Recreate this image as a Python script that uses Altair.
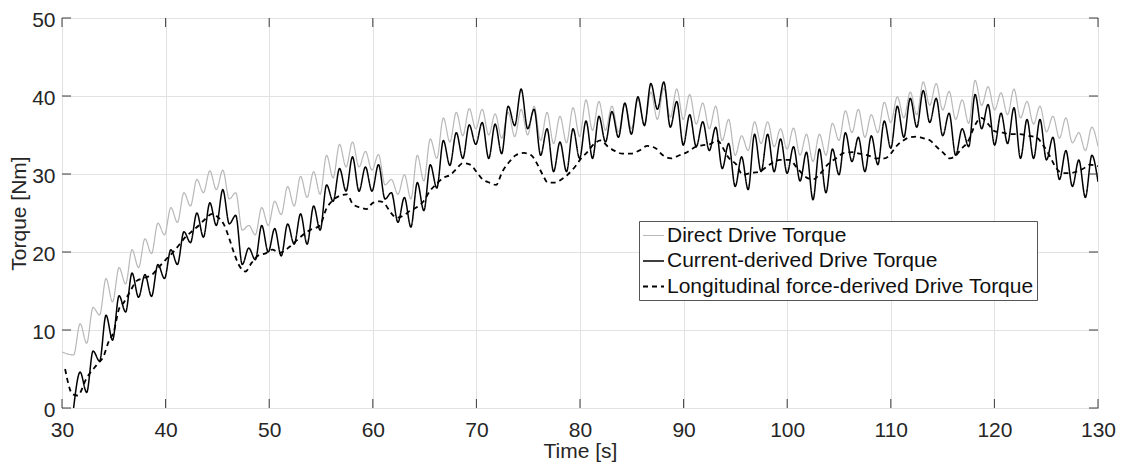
import altair as alt
import pandas as pd

# ---- time grid of the oscillation peaks and troughs ----
peak_t = [31.75, 33.00, 34.25, 35.51, 36.76, 38.01, 39.26, 40.51, 41.77, 43.02,
          44.27, 45.52, 46.77, 48.03, 49.28, 50.53, 51.78, 53.03, 54.29, 55.54,
          56.79, 58.04, 59.29, 60.55, 61.80, 63.05, 64.30, 65.55, 66.81, 68.06,
          69.31, 70.56, 71.81, 73.07, 74.32, 75.57, 76.82, 78.07, 79.33, 80.58,
          81.83, 83.08, 84.33, 85.59, 86.84, 88.09, 89.34, 90.59, 91.85, 93.10,
          94.35, 95.60, 96.85, 98.11, 99.36, 100.61, 101.86, 103.11, 104.37, 105.62,
          106.87, 108.12, 109.37, 110.63, 111.88, 113.13, 114.38, 115.63, 116.89, 118.14,
          119.39, 120.64, 121.89, 123.15, 124.40, 125.65, 126.90, 128.15, 129.41]
trough_t = [32.38, 33.63, 34.88, 36.14, 37.39, 38.64, 39.89, 41.14, 42.40, 43.65,
            44.90, 46.15, 47.40, 48.66, 49.91, 51.16, 52.41, 53.66, 54.92, 56.17,
            57.42, 58.67, 59.92, 61.18, 62.43, 63.68, 64.93, 66.18, 67.44, 68.69,
            69.94, 71.19, 72.44, 73.70, 74.95, 76.20, 77.45, 78.70, 79.96, 81.21,
            82.46, 83.71, 84.96, 86.22, 87.47, 88.72, 89.97, 91.22, 92.48, 93.73,
            94.98, 96.23, 97.48, 98.74, 99.99, 101.24, 102.49, 103.74, 105.00, 106.25,
            107.50, 108.75, 110.00, 111.26, 112.51, 113.76, 115.01, 116.26, 117.52, 118.77,
            120.02, 121.27, 122.52, 123.78, 125.03, 126.28, 127.53, 128.78, 130.00]

# ---- Direct Drive Torque (grey) ----
direct_start_t = [30.0, 31.12]
direct_start_v = [7.2, 6.8]
direct_peak = [10.8, 12.9, 16.6, 18.0, 20.3, 21.7, 23.7, 25.7, 27.6, 29.3, 30.4, 30.5, 27.6, 23.4, 25.7,
               26.5, 28.4, 29.7, 30.3, 32.4, 33.8, 34.1, 32.9, 32.5, 29.3, 29.9, 32.4, 34.5, 37.2, 37.9, 38.4,
               38.3, 37.7, 37.9, 38.3, 38.7, 37.9, 37.4, 38.5, 39.5, 39.3, 38.7, 39.0, 39.5, 40.5, 41.0, 40.9,
               40.2, 39.1, 38.7, 37.0, 34.9, 36.7, 36.7, 35.8, 35.9, 35.1, 35.1, 36.5, 38.1, 38.3, 37.6, 39.2,
               39.9, 40.5, 41.8, 41.6, 40.6, 39.5, 42.0, 41.2, 40.4, 40.9, 39.3, 38.7, 37.4, 37.2, 35.3, 36.0]
direct_trough = [8.3, 11.9, 13.6, 15.9, 18.0, 19.8, 22.2, 23.8, 25.9, 27.6, 28.0, 26.8, 22.8, 22.2, 23.4,
                 24.8, 25.9, 27.0, 27.4, 29.5, 30.9, 30.9, 30.5, 28.6, 27.4, 26.8, 29.1, 32.0, 34.1, 34.9, 35.8,
                 35.0, 34.6, 34.8, 35.0, 34.3, 33.9, 34.0, 34.8, 35.6, 35.6, 35.4, 35.8, 36.4, 37.0, 37.3, 37.0,
                 36.4, 35.8, 34.3, 32.4, 33.0, 33.9, 33.5, 33.2, 32.4, 31.6, 32.4, 34.3, 35.3, 34.7, 35.3, 36.6,
                 37.2, 37.6, 38.8, 38.2, 37.0, 36.5, 38.8, 38.2, 37.6, 37.2, 36.4, 35.4, 34.6, 34.0, 33.0, 33.5]

# ---- Current-derived Drive Torque (black) ----
current_start_t = [31.12]
current_start_v = [0.0]
current_peak = [4.6, 7.3, 11.9, 14.4, 17.3, 17.1, 18.4, 20.3, 22.6, 25.0, 26.3, 28.0, 24.7, 20.5, 23.4,
                23.0, 23.6, 24.9, 25.9, 28.6, 30.7, 32.2, 30.9, 31.2, 27.6, 27.0, 28.9, 31.2, 34.3, 35.3, 36.3,
                36.6, 36.4, 38.7, 40.9, 38.3, 35.8, 34.1, 35.8, 36.8, 37.4, 38.0, 39.1, 39.9, 41.6, 41.8, 39.3,
                37.6, 36.7, 36.0, 33.9, 32.2, 35.1, 35.1, 34.5, 33.5, 32.8, 33.2, 33.2, 35.3, 34.7, 34.9, 36.8,
                38.7, 39.7, 40.7, 39.7, 37.8, 35.8, 40.2, 38.9, 37.8, 38.5, 37.0, 37.0, 34.7, 33.0, 31.8, 32.4]
current_trough = [2.0, 6.0, 8.7, 12.3, 14.2, 14.3, 16.6, 18.4, 21.2, 21.9, 23.4, 23.6, 18.4, 19.0, 20.0,
                  19.5, 21.0, 21.0, 22.8, 26.5, 27.8, 27.8, 27.8, 26.8, 23.8, 23.2, 25.3, 28.2, 31.1, 32.0, 33.8,
                  32.0, 32.6, 36.2, 35.8, 32.4, 30.3, 30.3, 32.0, 32.0, 34.1, 34.7, 35.1, 36.2, 38.3, 36.0, 33.7,
                  33.5, 33.0, 30.7, 28.4, 28.0, 30.3, 30.3, 30.1, 29.1, 26.7, 27.6, 29.9, 31.6, 30.3, 31.2, 33.3,
                  34.7, 36.0, 36.6, 34.9, 32.4, 33.5, 35.8, 33.7, 33.9, 32.0, 32.0, 31.8, 29.3, 28.4, 27.0, 29.0]

# ---- Longitudinal force-derived Drive Torque (dashed) ----
long_t = [30.3, 31.0, 31.5, 32.4, 33.4, 34.0, 34.5, 35.0, 35.5, 36.0,
          36.6, 37.2, 38.0, 38.7, 39.3, 40.0, 40.6, 41.3, 41.9, 42.5,
          43.2, 43.8, 44.5, 45.1, 45.6, 46.1, 46.6, 47.05, 47.7, 48.3,
          49.0, 49.6, 50.3, 51.0, 52.0, 53.0, 53.9, 54.9, 55.5, 56.2,
          56.8, 57.5, 58.1, 58.8, 59.4, 60.0, 60.7, 61.2, 61.7, 62.3,
          63.0, 63.6, 64.2, 64.9, 65.5, 66.2, 66.8, 67.5, 68.1, 68.7,
          69.4, 70.0, 70.6, 71.25, 71.9, 72.5, 73.2, 73.8, 74.6, 75.3,
          75.9, 76.4, 76.9, 77.5, 78.2, 78.8, 79.5, 80.1, 80.7, 81.4,
          82.0, 82.7, 83.3, 84.1, 84.9, 85.7, 86.5, 87.3, 88.0, 88.8,
          89.6, 90.2, 91.2, 91.9, 92.5, 93.2, 94.4, 95.1, 95.7, 96.4,
          97.3, 98.3, 99.3, 100.2, 101.0, 101.7, 102.5, 103.1, 103.9, 104.7,
          105.5, 106.4, 107.0, 107.8, 108.6, 109.4, 110.0, 110.5, 111.2, 111.8,
          112.5, 113.1, 113.8, 114.4, 115.0, 115.7, 116.2, 116.8, 117.5, 118.1,
          118.75, 119.4, 120.0, 120.8, 121.6, 122.45, 123.25, 124.05, 124.7, 125.3,
          126.0, 126.6, 127.3, 127.9, 128.6, 129.2, 130.0]
long_v = [5.0, 1.8, 1.6, 3.9, 5.6, 6.6, 8.5, 9.8, 12.7, 13.6,
          15.0, 16.3, 16.7, 17.1, 18.0, 19.0, 19.8, 20.9, 21.9, 22.6,
          23.4, 24.2, 24.9, 24.4, 23.6, 21.9, 19.9, 18.4, 17.5, 18.6,
          19.6, 19.8, 20.3, 19.9, 20.7, 21.9, 22.8, 23.4, 25.5, 26.7,
          27.2, 27.4, 26.1, 25.7, 25.5, 26.3, 26.5, 26.1, 25.1, 24.4,
          24.7, 25.3, 25.7, 26.5, 27.8, 28.8, 29.5, 29.9, 30.7, 31.4,
          31.2, 30.3, 29.3, 28.9, 28.6, 30.3, 31.6, 32.4, 32.7, 32.4,
          31.2, 29.9, 28.9, 28.9, 29.3, 29.9, 30.9, 32.0, 32.8, 33.9,
          34.3, 33.5, 33.0, 32.6, 32.6, 33.0, 33.6, 33.3, 32.4, 32.0,
          32.4, 32.7, 33.5, 33.7, 33.8, 34.3, 32.0, 31.2, 29.9, 30.1,
          30.3, 31.2, 31.8, 31.8, 30.7, 29.7, 29.3, 29.9, 31.2, 32.0,
          32.7, 32.8, 32.6, 32.4, 32.0, 32.0, 32.6, 33.5, 34.3, 34.7,
          34.8, 34.6, 34.3, 33.5, 32.8, 32.0, 32.3, 33.2, 34.3, 36.2,
          37.2, 36.4, 35.5, 35.3, 35.1, 35.1, 34.9, 34.7, 33.7, 32.4,
          30.7, 30.1, 30.1, 30.3, 30.7, 31.2, 31.0]

x_ticks = [30, 40, 50, 60, 70, 80, 90, 100, 110, 120, 130]
y_ticks = [0, 10, 20, 30, 40, 50]
names = ["Direct Drive Torque", "Current-derived Drive Torque",
         "Longitudinal force-derived Drive Torque"]
colors = ["#b8b8b8", "#000000", "#000000"]
dashes = [[1, 0], [1, 0], [5, 4]]
widths = [1.2, 1.8, 2.0]


def interleave(start_t, start_v, peaks, troughs):
    t = list(start_t)
    v = list(start_v)
    for pt, pv, tt, tv in zip(peak_t, peaks, trough_t, troughs):
        t += [pt, tt]
        v += [pv, tv]
    return t, v


rows = []
dt, dv = interleave(direct_start_t, direct_start_v, direct_peak, direct_trough)
ct, cv = interleave(current_start_t, current_start_v, current_peak, current_trough)
for name, ts, vs in [(names[0], dt, dv), (names[1], ct, cv), (names[2], long_t, long_v)]:
    for i, (t, v) in enumerate(zip(ts, vs)):
        rows.append({"series": name, "t": t, "v": v, "i": i})
df = pd.DataFrame(rows)

AX = "#3c3c3c"
FONT = "Liberation Sans"
W, H = 1036, 390

xs = alt.Scale(domain=[30, 130], nice=False, zero=False)
ys = alt.Scale(domain=[0, 50], nice=False, zero=False)

legend = alt.Legend(title=None, orient="none", legendX=577, legendY=203,
                    strokeColor="#555555", fillColor="white", padding=3,
                    labelFont=FONT, labelFontSize=21, labelColor="#111111",
                    symbolType="stroke", symbolSize=441, labelOffset=2,
                    rowPadding=3.5, cornerRadius=0, labelLimit=0, offset=0)

enc_color = alt.Color("series:N", scale=alt.Scale(domain=names, range=colors), legend=legend)
enc_dash = alt.StrokeDash("series:N", scale=alt.Scale(domain=names, range=dashes), legend=legend)
enc_width = alt.StrokeWidth("series:N", scale=alt.Scale(domain=names, range=widths), legend=legend)

x_axis = alt.Axis(values=x_ticks, title="Time [s]", labelPadding=11,
                  titlePadding=0, labelFlush=False, labelOverlap=False)
y_axis = alt.Axis(values=y_ticks, title="Torque [Nm]", labelPadding=7, labelOffset=2,
                  titlePadding=2, labelFlush=False, labelOverlap=False)
x_enc = alt.X("t:Q", scale=xs, axis=x_axis)
y_enc = alt.Y("v:Q", scale=ys, axis=y_axis)

layers = []
for name in names:
    layers.append(
        alt.Chart(df).transform_filter(alt.datum.series == name)
        .mark_line(interpolate="monotone", clip=True)
        .encode(x=x_enc, y=y_enc, color=enc_color, strokeDash=enc_dash,
                strokeWidth=enc_width, order="i:Q")
    )

# inward ticks on all four sides (MATLAB-style box), positioned by the scales
xt = pd.DataFrame({"t": x_ticks})
yt = pd.DataFrame({"v": y_ticks})
tick_bottom = alt.Chart(xt).mark_rule(color=AX, strokeWidth=1).encode(
    x=x_enc, y=alt.value(H), y2=alt.value(H - 9))
tick_top = alt.Chart(xt).mark_rule(color=AX, strokeWidth=1).encode(
    x=x_enc, y=alt.value(0), y2=alt.value(9))
tick_left = alt.Chart(yt).mark_rule(color=AX, strokeWidth=1).encode(
    y=y_enc, x=alt.value(0), x2=alt.value(9))
tick_right = alt.Chart(yt).mark_rule(color=AX, strokeWidth=1).encode(
    y=y_enc, x=alt.value(W), x2=alt.value(W - 9))

chart = alt.layer(*layers, tick_bottom, tick_top, tick_left, tick_right).properties(
    width=W, height=H,
    autosize=alt.AutoSizeParams(type="none"),
    padding={"left": 54, "top": 10, "right": 18, "bottom": 54},
).configure_view(
    stroke=AX, strokeWidth=1
).configure_axis(
    grid=True, gridColor="#e2e2e2", gridWidth=1, domain=False, ticks=False,
    labelFont=FONT, labelFontSize=21, labelColor="#262626",
    titleFont=FONT, titleFontSize=21, titleFontWeight="normal", titleColor="#262626",
)

chart.save("out.html", embed_options={"renderer": "svg", "actions": False})
